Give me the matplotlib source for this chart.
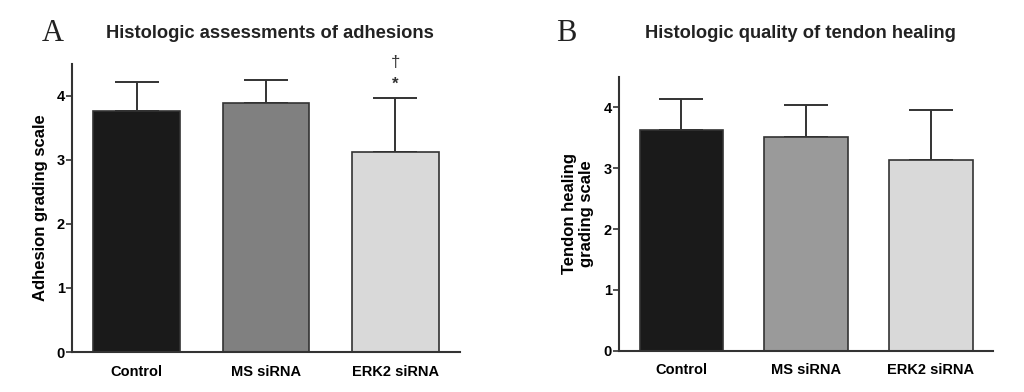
import matplotlib
matplotlib.use("Agg")
import matplotlib.pyplot as plt
import numpy as np

GROUPS = ["Control", "MS siRNA", "ERK2 siRNA"]

# panel A: adhesion grading
ADH_MEAN = [3.76, 3.89, 3.13]
ADH_SD = [0.46, 0.36, 0.84]
ADH_COLORS = ["#1a1a1a", "#808080", "#d9d9d9"]

# panel B: tendon healing grading
HEAL_MEAN = [3.62, 3.51, 3.13]
HEAL_SD = [0.52, 0.52, 0.83]
HEAL_COLORS = ["#1a1a1a", "#9a9a9a", "#d9d9d9"]

plt.rcParams["font.family"] = ["Liberation Sans", "DejaVu Sans"]
EDGE = "#333333"


def bar_panel(ax, means, sds, colors, ylabel):
    x = np.arange(len(GROUPS))
    ax.bar(x, means, width=0.67, color=colors, edgecolor=EDGE,
           linewidth=1.2, zorder=2)
    ax.errorbar(x, means, yerr=[np.zeros(len(sds)), sds], fmt="none",
                ecolor=EDGE, elinewidth=1.4, capsize=15.5, capthick=1.4,
                zorder=1)
    ax.set_xlim(-0.5, 2.5)
    ax.set_ylim(0, 4.5)
    ax.set_yticks([0, 1, 2, 3, 4])
    ax.set_xticks(x)
    ax.set_xticklabels(GROUPS, fontsize=10.5, fontweight="bold")
    ax.tick_params(axis="x", length=0, pad=9)
    ax.tick_params(axis="y", length=4, width=1.2, color=EDGE, labelsize=10.5,
                   pad=1)
    for lab in ax.get_yticklabels():
        lab.set_fontweight("bold")
    for side in ("top", "right"):
        ax.spines[side].set_visible(False)
    for side in ("left", "bottom"):
        ax.spines[side].set_linewidth(1.5)
        ax.spines[side].set_color(EDGE)
    ax.set_ylabel(ylabel, fontsize=12, fontweight="bold", linespacing=1.2)


fig = plt.figure(figsize=(10.24, 3.92), dpi=100, facecolor="white")
ax_a = fig.add_axes([0.0703, 0.102, 0.379, 0.735])
ax_b = fig.add_axes([0.6045, 0.105, 0.3655, 0.699])

bar_panel(ax_a, ADH_MEAN, ADH_SD, ADH_COLORS, "Adhesion grading scale")
bar_panel(ax_b, HEAL_MEAN, HEAL_SD, HEAL_COLORS,
          "Tendon healing\ngrading scale")
ax_a.yaxis.labelpad = 6
ax_b.yaxis.labelpad = 7

# significance marks over ERK2 siRNA
ax_a.text(2, 4.18, "*", ha="center", va="center", fontsize=12,
          fontweight="bold", color=EDGE)
ax_a.text(2, 4.52, "\u2020", ha="center", va="center", fontsize=12,
          color=EDGE, clip_on=False)

fig.text(0.264, 0.915, "Histologic assessments of adhesions", ha="center",
         va="center", fontsize=13.2, fontweight="bold", color="#222222")
fig.text(0.782, 0.915, "Histologic quality of tendon healing", ha="center",
         va="center", fontsize=13.2, fontweight="bold", color="#222222")
fig.text(0.052, 0.915, "A", ha="center", va="center", fontsize=22,
         family=["Liberation Serif", "DejaVu Serif"], color="#222222")
fig.text(0.553, 0.915, "B", ha="center", va="center", fontsize=22,
         family=["Liberation Serif", "DejaVu Serif"], color="#222222")

fig.savefig("out.png", dpi=100, facecolor="white")
